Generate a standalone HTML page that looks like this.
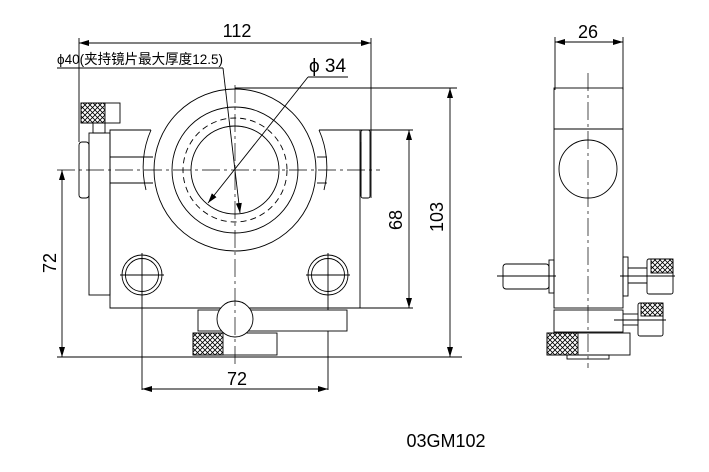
<!DOCTYPE html>
<html><head><style>body{margin:0;background:#fff}svg{display:block}</style></head><body>
<svg width="709" height="472" viewBox="0 0 709 472" xmlns="http://www.w3.org/2000/svg" font-family="Liberation Sans, Noto Sans CJK SC, sans-serif">
<defs>
<pattern id="x" width="5" height="5" patternUnits="userSpaceOnUse"><path d="M0 0L5 5M5 0L0 5" stroke="#000" stroke-width="0.8"/></pattern>
<marker id="a" viewBox="0 0 10 6" refX="10" refY="3" markerWidth="10" markerHeight="6" orient="auto-start-reverse" markerUnits="userSpaceOnUse"><path d="M0 0L10 3L0 6z" fill="#000"/></marker>
</defs>
<g fill="none" stroke="#000" stroke-width="0.9">
<!-- body -->
<path d="M151 130H110V308H360V130H319"/>
<path d="M151 130 A92 92 0 0 0 146 190"/>
<path d="M319 130 A92 92 0 0 1 324 190"/>
<rect x="89" y="133" width="21" height="162"/>
<rect x="79" y="142" width="10" height="56" rx="3"/>
<rect x="81" y="103" width="39" height="20"/><rect x="81" y="103" width="24" height="20" fill="url(#x)"/>
<rect x="93" y="123" width="12" height="10"/>
<line x1="110" y1="157" x2="153" y2="157"/><line x1="110" y1="183" x2="153" y2="183"/>
<line x1="317" y1="157" x2="327" y2="157"/><line x1="317" y1="183" x2="327" y2="183"/>
<rect x="361" y="130" width="9" height="68" rx="2"/><line x1="361" y1="142" x2="361" y2="196"/>
<!-- ring -->
<circle cx="235" cy="170" r="81" fill="#fff"/>
<circle cx="235" cy="170" r="63"/>
<circle cx="235" cy="170" r="52" stroke-dasharray="6 4"/>
<circle cx="235" cy="170" r="44"/>
<!-- holes -->
<circle cx="142" cy="275" r="20"/><circle cx="142" cy="275" r="16.5"/>
<circle cx="328" cy="275" r="20"/><circle cx="328" cy="275" r="16.5"/>
<line x1="120" y1="275" x2="164" y2="275"/><line x1="306" y1="275" x2="350" y2="275"/>
<line x1="142" y1="253" x2="142" y2="390"/><line x1="328" y1="253" x2="328" y2="390"/>
<!-- bottom -->
<rect x="198" y="310" width="149" height="21" fill="#fff"/>
<rect x="193" y="333" width="84" height="22" fill="#fff"/><rect x="193" y="333" width="30" height="22" fill="url(#x)"/>
<circle cx="235" cy="319" r="18" fill="#fff"/>
<!-- centerlines -->
<line x1="57" y1="170" x2="380" y2="170" stroke-dasharray="18 4 3 4" stroke-width="0.7"/>
<line x1="235" y1="85" x2="235" y2="366" stroke-dasharray="18 4 3 4" stroke-width="0.7"/>
<!-- 112 dim -->
<line x1="79" y1="38" x2="79" y2="142"/><line x1="371" y1="38" x2="371" y2="198"/>
<line x1="79" y1="43" x2="371" y2="43" marker-start="url(#a)" marker-end="url(#a)"/>
<!-- phi40 leader -->
<line x1="57" y1="68" x2="223" y2="68"/><line x1="223" y1="68" x2="240" y2="213" marker-end="url(#a)"/>
<!-- phi34 -->
<line x1="308" y1="77" x2="348" y2="77"/><line x1="308" y1="77" x2="208" y2="203" marker-end="url(#a)"/>
<!-- left 72 -->
<line x1="62" y1="170" x2="62" y2="357" marker-start="url(#a)" marker-end="url(#a)"/>
<line x1="57" y1="357" x2="462" y2="357"/>
<!-- 68 / 103 -->
<line x1="360" y1="130" x2="413" y2="130"/><line x1="360" y1="308" x2="413" y2="308"/>
<line x1="409" y1="130" x2="409" y2="308" marker-start="url(#a)" marker-end="url(#a)"/>
<line x1="235" y1="88" x2="457" y2="88"/>
<line x1="450" y1="88" x2="450" y2="357" marker-start="url(#a)" marker-end="url(#a)"/>
<!-- bottom 72 -->
<line x1="142" y1="389" x2="328" y2="389" marker-start="url(#a)" marker-end="url(#a)"/>
<!-- side view -->
<line x1="555" y1="37" x2="555" y2="90"/><line x1="623" y1="37" x2="623" y2="90"/>
<line x1="555" y1="42" x2="623" y2="42" marker-start="url(#a)" marker-end="url(#a)"/>
<rect x="554" y="88" width="69" height="220"/><line x1="554" y1="129" x2="623" y2="129"/>
<circle cx="588" cy="169" r="29"/>
<rect x="549" y="260" width="5" height="33"/><rect x="503" y="264" width="46" height="25" rx="3"/>
<line x1="497" y1="276" x2="556" y2="276"/>
<rect x="623" y="257" width="5" height="39"/><line x1="628" y1="268" x2="647" y2="268"/><line x1="628" y1="283" x2="647" y2="283"/>
<rect x="647" y="259" width="26" height="35" rx="2"/><rect x="651" y="259" width="22" height="14" fill="url(#x)"/>
<line x1="620" y1="276" x2="675" y2="276"/>
<rect x="554" y="310" width="69" height="22"/>
<line x1="623" y1="314" x2="638" y2="314"/><line x1="623" y1="325" x2="638" y2="325"/>
<rect x="638" y="303" width="25" height="33" rx="2"/><rect x="641" y="303" width="22" height="13" fill="url(#x)"/>
<line x1="614" y1="320" x2="666" y2="320"/>
<rect x="547" y="333" width="83" height="22"/><rect x="547" y="333" width="31" height="22" fill="url(#x)"/>
<rect x="567" y="355" width="42" height="4"/>
<line x1="588" y1="73" x2="588" y2="368" stroke-dasharray="18 4 3 4" stroke-width="0.7"/>
</g>
<g font-size="18" fill="#000">
<text x="237" y="37" text-anchor="middle">112</text>
<text x="57" y="64" font-size="14" textLength="166" lengthAdjust="spacingAndGlyphs">ϕ40(夹持镜片最大厚度12.5)</text>
<text x="309" y="72" font-size="19">ϕ 34</text>
<text x="237" y="385" text-anchor="middle">72</text>
<text x="588" y="38" text-anchor="middle">26</text>
<text transform="translate(56,263) rotate(-90)" text-anchor="middle">72</text>
<text transform="translate(402,220) rotate(-90)" text-anchor="middle">68</text>
<text transform="translate(443,217) rotate(-90)" text-anchor="middle">103</text>
<text x="446" y="447" text-anchor="middle">03GM102</text>
</g>
</svg>
</body></html>
